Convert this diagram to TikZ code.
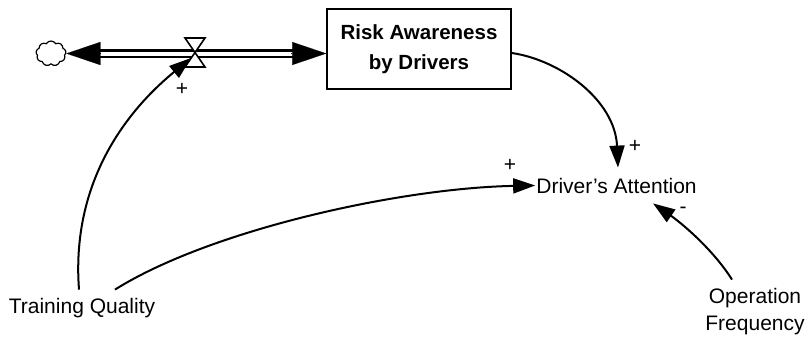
\documentclass[tikz,border=0pt]{standalone}
\usepackage{fontspec}
\setmainfont{Liberation Sans}
\usetikzlibrary{arrows.meta,shapes.symbols}
\begin{document}
\begin{tikzpicture}[x=1pt,y=-1pt,
  every node/.style={font=\fontsize{21}{27}\selectfont},
  varlabel/.style={inner xsep=1pt,inner ysep=0pt,align=center},
  stockbox/.style={draw,line width=1.6pt,minimum width=184pt,minimum height=80pt,
    align=center,font=\fontsize{20.5}{30}\selectfont\bfseries},
  source/.style={cloud,draw,line width=1.2pt,cloud puffs=9,cloud puff arc=120,
    minimum width=30pt,minimum height=25pt,inner sep=0pt,aspect=1.2},
  pipe/.style={draw=black,line width=2.2pt,double=white,double distance=4pt},
  pipehead/.style={line width=0.1pt,-{Triangle[length=34pt,width=23pt]}},
  link/.style={line width=2pt,-{Triangle[length=22pt,width=15pt]}},
  valveshape/.style={draw,line width=1.6pt,fill=white,line join=miter},
  sign/.style={inner sep=0pt,font=\fontsize{21}{21}\selectfont}]
\useasboundingbox (0,0) rectangle (808,346);

% stock, source cloud and flow valve
\node[stockbox] (stock) at (419,49) {Risk Awareness\\by Drivers};
\node[source] (src) at (51,53.5) {};
\coordinate (valve) at (195,53);
\coordinate (inlet) at (src.east -| stock.west);

% flow pipe with heads at both ends
\draw[pipe] ([xshift=33pt]src.east) -- ([xshift=-33pt]inlet);
\draw[pipehead] ([xshift=35pt]src.east) -- (src.east);
\draw[pipehead] ([xshift=-35pt]inlet) -- (inlet);
\draw[valveshape] ([shift={(-10,-15)}]valve) -- ([shift={(10,-15)}]valve)
  -- ([shift={(-10,14)}]valve) -- ([shift={(10,14)}]valve) -- cycle;

% auxiliary variables
\node[varlabel,anchor=base] (att) at (616.5,193) {Driver's Attention};
\node[varlabel,anchor=base] (tq) at (82,313) {Training Quality};
\node[varlabel,anchor=base] (op) at (755,330) {Operation\\Frequency};

% causal links
\draw[link] ([xshift=-3pt,yshift=8pt]tq.north) .. controls (70,170) and (140,100) ..
  ([shift={(-4,5)}]valve);
\draw[link] ([xshift=33pt,yshift=8pt]tq.north) .. controls (210,230) and (400,188) ..
  (att.west);
\draw[link] ([yshift=-4pt]stock.east) .. controls (560,60) and (615,100) ..
  ([xshift=1.5pt,yshift=10pt]att.north);
\draw[link] ([xshift=-23pt,yshift=8pt]op.north) .. controls (712,248) and (680,222) ..
  ([xshift=36.5pt,yshift=-10pt]att.south);

% link polarities
\node[sign] (s1) at (182,89) {+};
\node[sign] (s2) at (635,146) {+};
\node[sign] (s3) at (510,165) {+};
\node[sign] (s4) at (683,210) {-};
\end{tikzpicture}
\end{document}
